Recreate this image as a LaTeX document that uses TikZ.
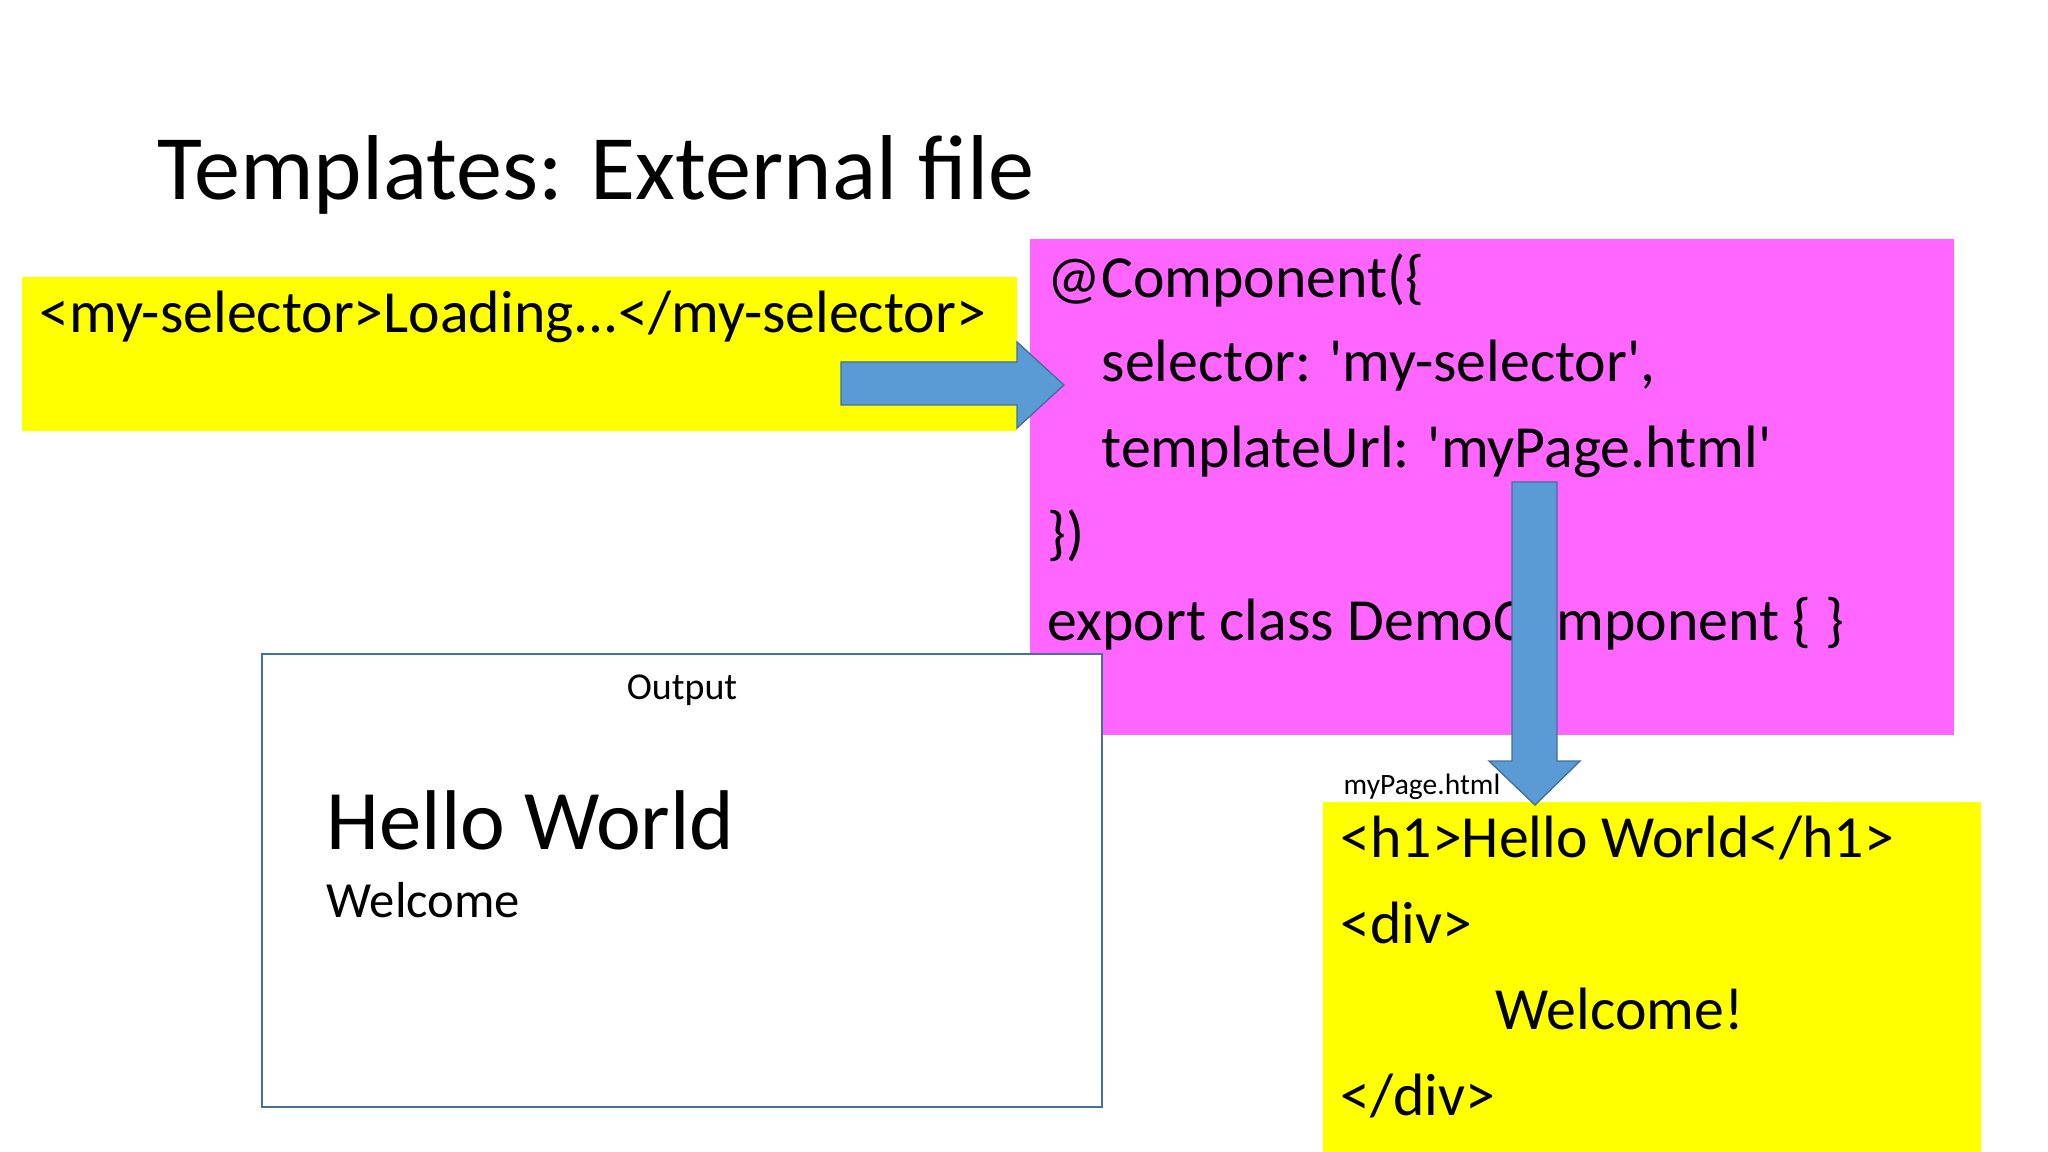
\documentclass[tikz,border=0pt]{standalone}
\usepackage{fontspec}
\setmainfont{Carlito}
\newfontfamily\plainfont{Carlito}
\definecolor{hlyellow}{HTML}{FFFF00}
\definecolor{hlmagenta}{HTML}{FF66FF}
\definecolor{arrowblue}{HTML}{5B9BD5}
\definecolor{arrowedge}{HTML}{41719C}
\begin{document}
\begin{tikzpicture}[x=0.01cm,y=-0.01cm,
  codetext/.style={anchor=base west,inner sep=0,font=\plainfont\fontsize{17}{20}\selectfont},
  smalltext/.style={anchor=base west,inner sep=0,font=\plainfont\fontsize{8.4}{10}\selectfont},
  blockarrow/.style={fill=arrowblue,draw=arrowedge,line width=0.4pt}]
\useasboundingbox (0,0) rectangle (2048,1152);
\fill[white] (0,0) rectangle (2048,1152);
% title
\node[anchor=base west,inner sep=0,font=\plainfont\fontsize{26.2}{30}\selectfont] (title) at (157,200) {Templates: External file};
% left yellow box
\fill[hlyellow] (22,277) rectangle (1017,431);
\node[codetext] (sel) at (39,333) {<my-selector>Loading...</my-selector>};
% magenta box
\fill[hlmagenta] (1030,239) rectangle (1954,735);
\node[codetext] (m1) at (1047,298) {@Component(\{};
\node[codetext] (m2) at (1101,382) {selector: 'my-selector',};
\node[codetext] (m3) at (1101,468) {templateUrl: 'myPage.html'};
\node[codetext] (m4) at (1047,554) {\})};
\node[codetext] (m5) at (1047,640) {export class DemoComponent \{ \}};
% output box
\filldraw[fill=white,draw=arrowedge,line width=0.6pt] (262,654) rectangle (1102,1107);
\node[anchor=base,inner sep=0,font=\plainfont\fontsize{10.8}{12}\selectfont] (out) at (682,699) {Output};
\node[anchor=base west,inner sep=0,font=\plainfont\fontsize{24.1}{28}\selectfont] (hw) at (326,849) {Hello World};
\node[anchor=base west,inner sep=0,font=\plainfont\fontsize{14.4}{17}\selectfont] (wel) at (326,917) {Welcome};
% bottom yellow box
\fill[hlyellow] (1323,802) rectangle (1981,1152);
\node[smalltext] (fname) at (1343,794) {myPage.html};
\node[codetext] (h1) at (1340,857) {<h1>Hello World</h1>};
\node[codetext] (d1) at (1340,943) {<div>};
\node[codetext] (w2) at (1495,1029) {Welcome!};
\node[codetext] (d2) at (1340,1115) {</div>};
% right block arrow
\draw[blockarrow] (841,362) -- (1017,362) -- (1017,342) -- (1064,385) -- (1017,428) -- (1017,405) -- (841,405) -- cycle;
% down block arrow
\draw[blockarrow] (1512,482) -- (1557,482) -- (1557,761) -- (1580,761) -- (1535,805) -- (1489,761) -- (1512,761) -- cycle;
\end{tikzpicture}
\end{document}
